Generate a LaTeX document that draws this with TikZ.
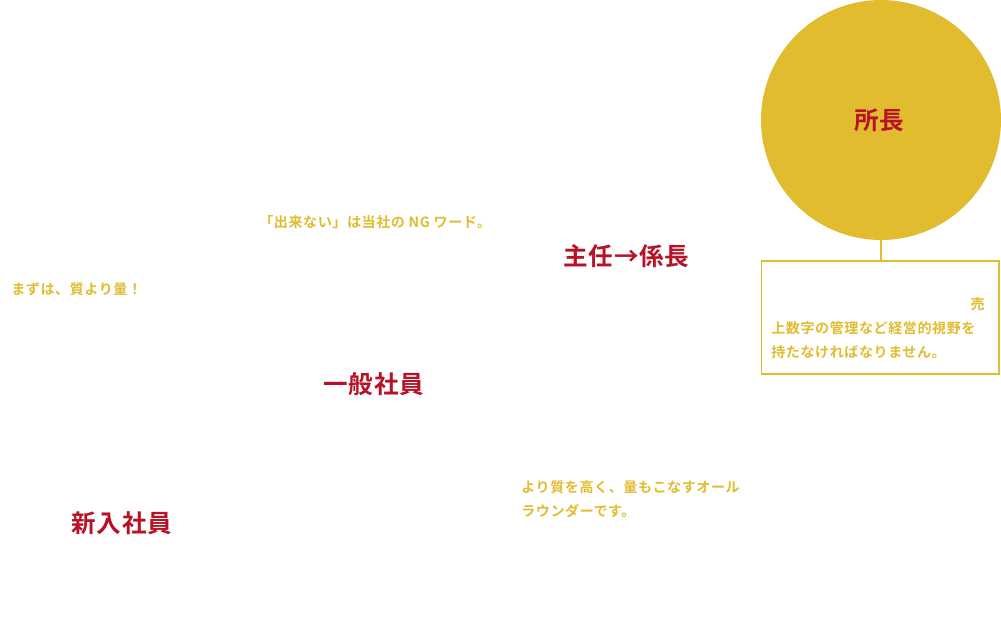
\documentclass[tikz,border=0pt]{standalone}
\usepackage{fontspec}
\setmainfont{Noto Sans CJK JP}[BoldFont={* Bold}]
\usepackage{tikz}
\usetikzlibrary{positioning}
\definecolor{gold}{RGB}{224,188,46}
\definecolor{crimson}{RGB}{183,18,38}
\tikzset{
  every picture/.style = {
    font=\bfseries
  },
  rank/.style={
    anchor = west,
    inner sep = 0pt,
    text = crimson,
    font = \fontsize{14pt}{16pt}\selectfont\bfseries\addfontfeatures{LetterSpace=3}
  },
  memo/.style={
    anchor = west,
    inner sep = 0pt,
    text = gold,
    font = \fontsize{8pt}{13.6pt}\selectfont\bfseries\addfontfeatures{LetterSpace=4}
  },
  badge/.style={
    shape = circle,
    fill = gold,
    inner sep = 0pt,
    minimum size = 4.8cm
  },
  notebox/.style={
    draw = gold,
    line width = 0.6pt,
    minimum width = 4.76cm,
    minimum height = 2.26cm
  }
}

\begin{document}
\begin{tikzpicture}[x=0.02cm,y=-0.02cm]
                \useasboundingbox (0,0) rectangle (1001,640);

                \node[badge] (shocho) at (881,120) {};
                \node[rank, anchor=center] (shochoname) at (879,120) {所長};
                \node[notebox] (shochonote) at (880,317.5) {};
                \draw[gold, line width=0.6pt] (shocho.south) -- (shocho.south |- shochonote.north);

                \node[memo, anchor=east] (note1) at (985,304) {売};
                \node[memo] (note2) at (771,328) {上数字の管理など経営的視野を};
                \node[memo] (note3) at (771,352) {持たなければなりません。};

                \node[rank] (kakari) at (563,256) {主任→係長};
                \node[memo] (ngword) at (259,222) {「出来ない」は当社の NG ワード。};

                \node[rank] (ippan) at (323,384) {一般社員};
                \node[memo] (allround1) at (521,487) {より質を高く、量もこなすオール};
                \node[memo] (allround2) at (521,511) {ラウンダーです。};

                \node[rank] (shinnyu) at (71,523) {新入社員};
                \node[memo] (ryou) at (11,289) {まずは、質より量！};
    \end{tikzpicture}
\end{document}
